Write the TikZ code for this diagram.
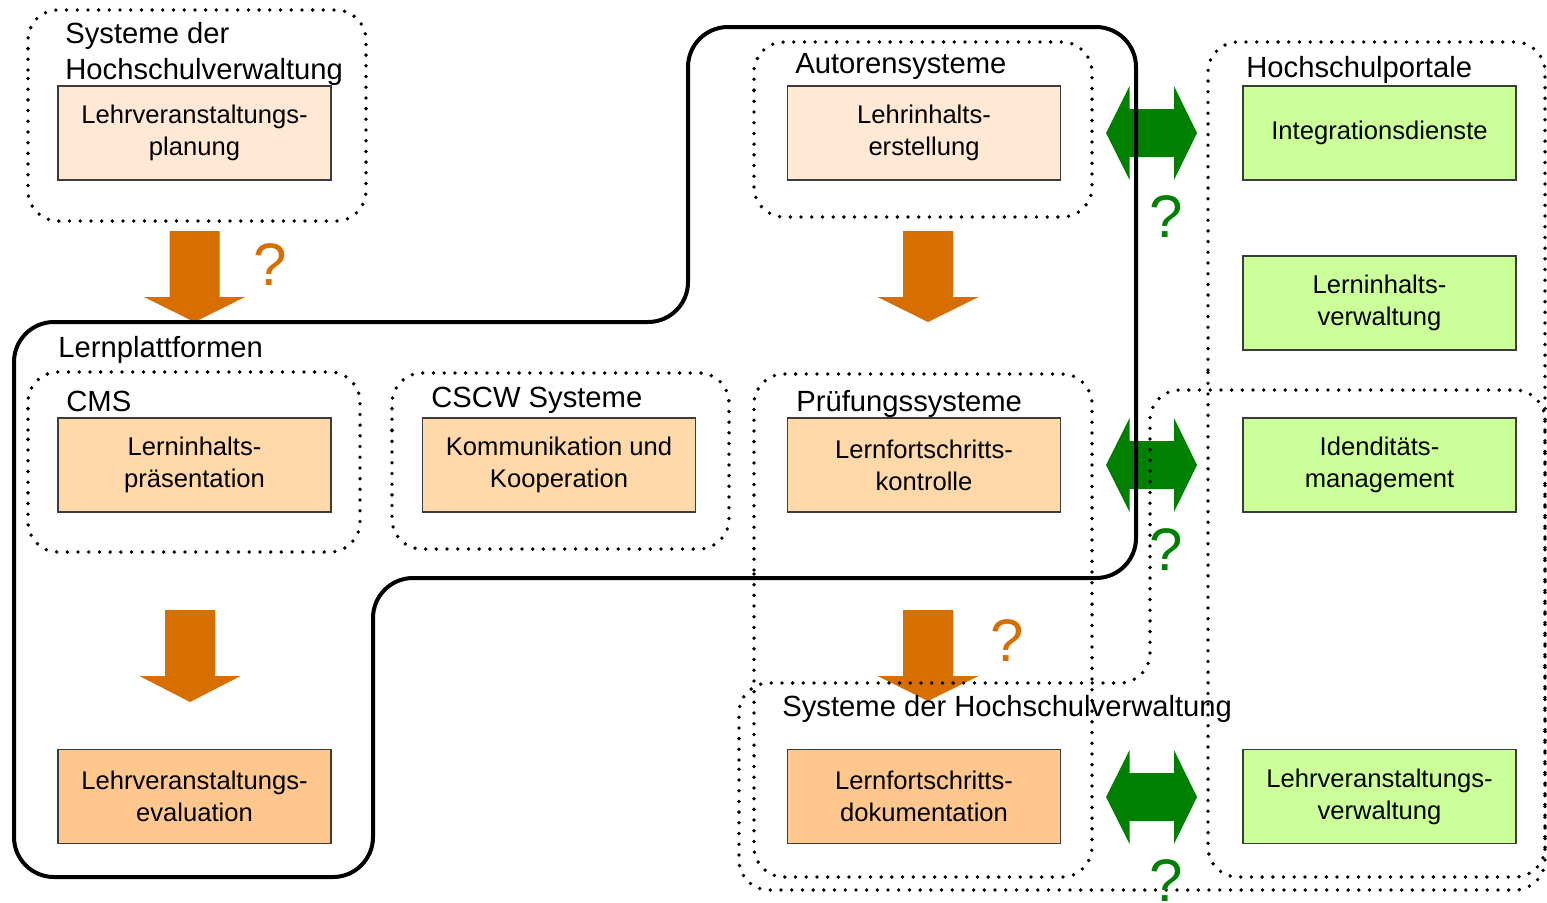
\documentclass[tikz,border=0pt]{standalone}
\usepackage{fontspec}
\setmainfont{Liberation Sans}
\usetikzlibrary{calc}
\definecolor{peachA}{RGB}{255,233,213}
\definecolor{peachB}{RGB}{255,217,170}
\definecolor{peachC}{RGB}{255,199,141}
\definecolor{lgreen}{RGB}{204,255,153}
\definecolor{orangearrow}{RGB}{214,110,0}
\definecolor{garrow}{RGB}{0,128,0}
\definecolor{boxline}{RGB}{60,60,60}
\newcommand\blockdown[5]{% name, x, ytop, ybase, ytip
  \fill[orangearrow] ({#2-25},#3) -- ({#2+25},#3) -- ({#2+25},#4) -- ({#2+50.5},#4)
    -- (#2,#5) coordinate (#1) -- ({#2-50.5},#4) -- ({#2-25},#4) -- cycle;}
\newcommand\dblarrow[2]{% name, ycenter
  \fill[garrow] (1106,#2) coordinate (#1) -- (1129.5,{#2-47}) -- (1129.5,{#2-24}) -- (1174,{#2-24})
    -- (1174,{#2-47}) -- (1197,#2) -- (1174,{#2+47}) -- (1174,{#2+24}) -- (1129.5,{#2+24})
    -- (1129.5,{#2+47}) -- cycle;}
\begin{document}
\begin{tikzpicture}[x=0.5pt,y=-0.5pt,
  box/.style={draw=boxline, line width=0.7pt, minimum width=136.5pt, minimum height=47pt,
    inner sep=0pt, outer sep=0pt, align=center, font=\fontsize{12.8}{16}\selectfont},
  region/.style={line width=1.9pt, dash pattern=on 0pt off 5.35pt, line cap=round, rounded corners=15pt},
  platform/.style={line width=2pt, rounded corners=20pt},
  hdr/.style={anchor=base west, inner sep=0pt, font=\fontsize{14.6}{18}\selectfont},
  qm/.style={inner sep=0pt, font=\fontsize{30}{30}\selectfont}]
\useasboundingbox (0,0) rectangle (1547,902);
\fill[white] (0,0) rectangle (1547,902);

% block arrows
\blockdown{a1}{194.5}{231}{297}{322}
\blockdown{a2}{928}{231}{297}{322}
\blockdown{a3}{190}{610}{676}{702}
\blockdown{a4}{928}{610}{676}{701}
\dblarrow{g1}{133}
\dblarrow{g2}{465}
\dblarrow{g3}{797}

% dotted regions
\draw[region] (28,100) -- (28,10) -- (366,10) -- (366,221) -- (28,221) -- cycle;
\draw[region] (754,120) -- (754,42) -- (1092,42) -- (1092,217) -- (754,217) -- cycle;
\draw[region] (1208,400) -- (1208,42) -- (1545,42) -- (1545,877) -- (1208,877) -- cycle;
\draw[region] (28,460) -- (28,372) -- (360,372) -- (360,552) -- (28,552) -- cycle;
\draw[region] (392,460) -- (392,373) -- (729,373) -- (729,549) -- (392,549) -- cycle;
\draw[region] (754,600) -- (754,374) -- (1092,374) -- (1092,877) -- (754,877) -- cycle;
\draw[region] (739,790) -- (739,683) -- (1150,683) -- (1150,390) -- (1545,390) -- (1545,890) -- (739,890) -- cycle;

% Lernplattformen outline
\draw[platform] (14,600) -- (14,322) -- (688,322) -- (688,27) -- (1136,27) -- (1136,578)
  -- (373,578) -- (373,877) -- (14,877) -- cycle;

% boxes
\node[box, fill=peachA] (b1) at (194.5,133) {Lehrveranstaltungs-\\planung};
\node[box, fill=peachA] (b2) at (924,133) {Lehrinhalts-\\erstellung};
\node[box, fill=lgreen] (b3) at (1379.5,133) {Integrationsdienste};
\node[box, fill=lgreen] (b4) at (1379.5,303) {Lerninhalts-\\verwaltung};
\node[box, fill=peachB] (b5) at (194.5,465) {Lerninhalts-\\präsentation};
\node[box, fill=peachB] (b6) at (559,465) {Kommunikation und\\Kooperation};
\node[box, fill=peachB] (b7) at (924,465) {Lernfortschritts-\\kontrolle};
\node[box, fill=lgreen] (b8) at (1379.5,465) {Idenditäts-\\management};
\node[box, fill=peachC] (b9) at (194.5,796.5) {Lehrveranstaltungs-\\evaluation};
\node[box, fill=peachC] (b10) at (924,796.5) {Lernfortschritts-\\dokumentation};
\node[box, fill=lgreen] (b11) at (1379.5,796.5) {Lehrveranstaltungs-\\verwaltung};

% headers
\node[hdr] (h1a) at (65,43) {Systeme der};
\node[hdr] (h1b) at (65,79) {Hochschulverwaltung};
\node[hdr] (h2) at (795,73) {Autorensysteme};
\node[hdr] (h3) at (1246,77) {Hochschulportale};
\node[hdr] (h4) at (58,357) {Lernplattformen};
\node[hdr] (h5) at (66,411) {CMS};
\node[hdr] (h6) at (431,407) {CSCW Systeme};
\node[hdr] (h7) at (796,411) {Prüfungssysteme};
\node[hdr] (h8) at (782,716) {Systeme der Hochschulverwaltung};

% question marks
\node[qm, text=orangearrow] (q1) at (270,265) {?};
\node[qm, text=orangearrow] (q2) at (1007,641) {?};
\node[qm, text=garrow] (q3) at (1166,217) {?};
\node[qm, text=garrow] (q4) at (1166,550) {?};
\node[qm, text=garrow] (q5) at (1166,881) {?};
\end{tikzpicture}
\end{document}
